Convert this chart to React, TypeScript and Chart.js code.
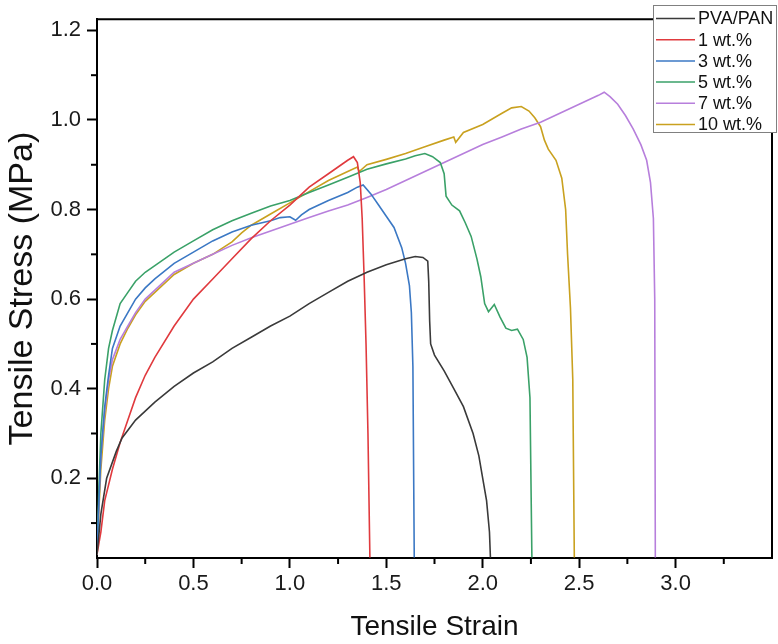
import React, { useEffect, useRef } from "react";
import { Chart, registerables } from "chart.js";

Chart.register(...registerables);

const seriesLabels = ["PVA/PAN", "1 wt.%", "3 wt.%", "5 wt.%", "7 wt.%", "10 wt.%"];
const seriesColors = ["#3a3a3a", "#e03a3e", "#3b78c4", "#3aa168", "#b77fdc", "#c9a11f"];

const pvaPan = [[0,0.03],[0.02,0.12],[0.05,0.2],[0.1,0.26],[0.13,0.29],[0.2,0.33],[0.3,0.37],[0.4,0.405],[0.5,0.435],[0.6,0.46],[0.7,0.49],[0.8,0.515],[0.9,0.54],[1.0,0.562],[1.1,0.59],[1.2,0.615],[1.3,0.64],[1.4,0.66],[1.5,0.677],[1.6,0.69],[1.65,0.695],[1.69,0.693],[1.715,0.685],[1.72,0.64],[1.725,0.55],[1.73,0.5],[1.75,0.475],[1.8,0.44],[1.85,0.4],[1.9,0.36],[1.95,0.3],[1.98,0.25],[2.0,0.2],[2.02,0.15],[2.035,0.08],[2.04,0.023]];
const wt1 = [[0,0.03],[0.02,0.08],[0.04,0.15],[0.08,0.22],[0.12,0.28],[0.16,0.33],[0.2,0.38],[0.25,0.43],[0.3,0.47],[0.4,0.54],[0.5,0.6],[0.6,0.645],[0.7,0.69],[0.8,0.735],[0.9,0.775],[1.0,0.81],[1.1,0.85],[1.2,0.88],[1.3,0.91],[1.33,0.918],[1.35,0.905],[1.365,0.86],[1.375,0.78],[1.385,0.65],[1.395,0.5],[1.405,0.3],[1.415,0.023]];
const wt3 = [[0,0.03],[0.01,0.15],[0.02,0.25],[0.04,0.36],[0.06,0.43],[0.08,0.49],[0.12,0.54],[0.16,0.57],[0.2,0.6],[0.25,0.625],[0.3,0.645],[0.4,0.68],[0.5,0.705],[0.6,0.73],[0.7,0.75],[0.8,0.765],[0.9,0.775],[0.95,0.782],[1.0,0.784],[1.03,0.776],[1.06,0.788],[1.1,0.8],[1.2,0.82],[1.3,0.838],[1.35,0.85],[1.38,0.855],[1.42,0.835],[1.46,0.81],[1.5,0.785],[1.54,0.76],[1.58,0.715],[1.6,0.68],[1.62,0.63],[1.63,0.57],[1.638,0.45],[1.645,0.023]];
const wt5 = [[0,0.03],[0.01,0.18],[0.02,0.3],[0.04,0.42],[0.06,0.49],[0.08,0.53],[0.12,0.59],[0.16,0.615],[0.2,0.64],[0.25,0.66],[0.3,0.675],[0.4,0.705],[0.5,0.73],[0.6,0.755],[0.7,0.775],[0.8,0.792],[0.9,0.808],[1.0,0.82],[1.1,0.838],[1.2,0.855],[1.3,0.872],[1.4,0.89],[1.5,0.902],[1.6,0.913],[1.65,0.92],[1.7,0.925],[1.74,0.918],[1.78,0.905],[1.8,0.88],[1.81,0.83],[1.84,0.81],[1.88,0.797],[1.91,0.77],[1.94,0.74],[1.97,0.69],[1.99,0.65],[2.01,0.59],[2.03,0.572],[2.06,0.588],[2.09,0.56],[2.12,0.535],[2.15,0.53],[2.18,0.533],[2.21,0.51],[2.23,0.47],[2.245,0.38],[2.255,0.023]];
const wt7 = [[0,0.03],[0.01,0.15],[0.02,0.25],[0.04,0.35],[0.06,0.42],[0.08,0.465],[0.12,0.51],[0.16,0.54],[0.2,0.57],[0.25,0.6],[0.3,0.62],[0.4,0.66],[0.5,0.68],[0.6,0.7],[0.7,0.72],[0.8,0.737],[0.9,0.752],[1.0,0.767],[1.1,0.782],[1.2,0.797],[1.3,0.81],[1.4,0.827],[1.5,0.845],[1.6,0.865],[1.7,0.885],[1.8,0.905],[1.9,0.925],[2.0,0.945],[2.1,0.962],[2.2,0.98],[2.3,0.995],[2.4,1.015],[2.5,1.035],[2.6,1.055],[2.63,1.062],[2.66,1.052],[2.7,1.035],[2.74,1.01],[2.78,0.98],[2.82,0.945],[2.85,0.91],[2.87,0.86],[2.885,0.78],[2.892,0.6],[2.895,0.023]];
const wt10 = [[0,0.03],[0.01,0.13],[0.02,0.22],[0.04,0.33],[0.06,0.4],[0.08,0.45],[0.12,0.5],[0.16,0.535],[0.2,0.565],[0.25,0.595],[0.3,0.615],[0.4,0.655],[0.5,0.68],[0.6,0.7],[0.7,0.728],[0.75,0.748],[0.8,0.765],[0.9,0.79],[1.0,0.815],[1.1,0.84],[1.2,0.865],[1.3,0.885],[1.35,0.895],[1.36,0.885],[1.4,0.9],[1.5,0.912],[1.6,0.925],[1.7,0.94],[1.8,0.955],[1.85,0.962],[1.86,0.95],[1.9,0.972],[2.0,0.99],[2.1,1.015],[2.15,1.027],[2.2,1.03],[2.24,1.02],[2.27,1.005],[2.3,0.985],[2.32,0.955],[2.34,0.935],[2.38,0.91],[2.41,0.87],[2.43,0.8],[2.44,0.7],[2.455,0.58],[2.467,0.42],[2.475,0.023]];

const allSeries = [pvaPan, wt1, wt3, wt5, wt7, wt10];

const xTicks = [0, 0.25, 0.5, 0.75, 1.0, 1.25, 1.5, 1.75, 2.0, 2.25, 2.5, 2.75, 3.0, 3.25];
const yTicks = [0.1, 0.2, 0.3, 0.4, 0.5, 0.6, 0.7, 0.8, 0.9, 1.0, 1.1, 1.2];
const xMin = 0, xMax = 3.5, yMin = 0.022, yMax = 1.225;

const FONT = "'Liberation Sans', Arial, sans-serif";

const isMajorX = (v: number) => Math.round(v * 4) % 2 === 0;
const isMajorY = (v: number) => Math.round(v * 10) % 2 === 0;

const framePlugin = {
  id: "frameAndLegend",
  afterDraw(chart: any) {
    const ctx = chart.ctx;
    const { left, right, top, bottom } = chart.chartArea;
    ctx.save();
    ctx.strokeStyle = "#000";
    ctx.lineWidth = 2;
    const xs = chart.scales.x, ys = chart.scales.y;
    xTicks.forEach((v) => {
      if (!isMajorX(v)) {
        const px = xs.getPixelForValue(v);
        ctx.beginPath(); ctx.moveTo(px, bottom); ctx.lineTo(px, bottom + 6); ctx.stroke();
      }
    });
    yTicks.forEach((v) => {
      if (!isMajorY(v)) {
        const py = ys.getPixelForValue(v);
        ctx.beginPath(); ctx.moveTo(left, py); ctx.lineTo(left - 6, py); ctx.stroke();
      }
    });
    ctx.beginPath();
    ctx.moveTo(left - 1, top);
    ctx.lineTo(right, top);
    ctx.lineTo(right, bottom + 1);
    ctx.stroke();
    const bx = 653, by = 5, bw = 124, bh = 128;
    ctx.fillStyle = "#fff";
    ctx.fillRect(bx, by, bw, bh);
    ctx.strokeStyle = "#808080";
    ctx.lineWidth = 1;
    ctx.strokeRect(bx + 0.5, by + 0.5, bw - 1, bh - 1);
    ctx.font = `18px ${FONT}`;
    ctx.textBaseline = "middle";
    ctx.textAlign = "left";
    chart.data.datasets.forEach((ds: any, i: number) => {
      const ry = 18.5 + i * 21.2;
      ctx.strokeStyle = ds.borderColor;
      ctx.lineWidth = 1.5;
      ctx.beginPath(); ctx.moveTo(656, ry); ctx.lineTo(695, ry); ctx.stroke();
      ctx.fillStyle = "#111";
      ctx.fillText(ds.label, 698, ry + 1);
    });
    ctx.restore();
  },
};

export default function App() {
  const ref = useRef<HTMLCanvasElement>(null);
  useEffect(() => {
    if (!ref.current) return;
    const chart = new Chart(ref.current, {
      type: "line",
      data: {
        datasets: allSeries.map((s, i) => ({
          label: seriesLabels[i],
          data: s.map(([x, y]) => ({ x, y })),
          borderColor: seriesColors[i],
          backgroundColor: seriesColors[i],
          borderWidth: 1.6,
          pointRadius: 0,
          tension: 0,
          fill: false,
        })),
      },
      options: {
        responsive: false,
        animation: false,
        layout: { padding: { top: 12, right: 6, left: 0, bottom: 0 } },
        plugins: { legend: { display: false }, tooltip: { enabled: false } },
        scales: {
          x: {
            type: "linear",
            min: xMin,
            max: xMax,
            afterBuildTicks: (scale: any) => { scale.ticks = xTicks.map((v) => ({ value: v })); },
            afterFit: (scale: any) => { scale.height = 86; },
            border: { display: true, color: "#000", width: 2 },
            grid: {
              drawOnChartArea: false,
              drawTicks: true,
              tickLength: 10,
              tickWidth: 2,
              tickColor: (c: any) => (isMajorX(c.tick.value) ? "#000" : "rgba(0,0,0,0)"),
            },
            ticks: {
              autoSkip: false,
              maxRotation: 0,
              padding: 3,
              color: "#1a1a1a",
              font: { family: FONT, size: 22 },
              callback: (v: any) => (isMajorX(Number(v)) ? Number(v).toFixed(1) : ""),
            },
            title: {
              display: true,
              text: "Tensile Strain",
              color: "#111",
              font: { family: FONT, size: 28 },
              padding: { top: 0, bottom: 0 },
            },
          },
          y: {
            type: "linear",
            min: yMin,
            max: yMax,
            afterBuildTicks: (scale: any) => { scale.ticks = yTicks.map((v) => ({ value: v })); },
            afterFit: (scale: any) => { scale.width = 97; },
            border: { display: true, color: "#000", width: 2 },
            grid: {
              drawOnChartArea: false,
              drawTicks: true,
              tickLength: 10,
              tickWidth: 2,
              tickColor: (c: any) => (isMajorY(c.tick.value) ? "#000" : "rgba(0,0,0,0)"),
            },
            ticks: {
              autoSkip: false,
              padding: 6,
              color: "#1a1a1a",
              font: { family: FONT, size: 22 },
              callback: (v: any) => (isMajorY(Number(v)) ? Number(v).toFixed(1) : ""),
            },
            title: {
              display: true,
              text: "Tensile Stress (MPa)",
              color: "#111",
              font: { family: FONT, size: 34 },
              padding: { top: 2, bottom: 0 },
            },
          },
        },
      },
      plugins: [framePlugin],
    } as any);
    return () => chart.destroy();
  }, []);
  return (
    <div style={{ position: "absolute", left: 0, top: 0, width: 778, height: 644, background: "#fff" }}>
      <canvas ref={ref} width={778} height={644} style={{ display: "block" }} />
    </div>
  );
}
